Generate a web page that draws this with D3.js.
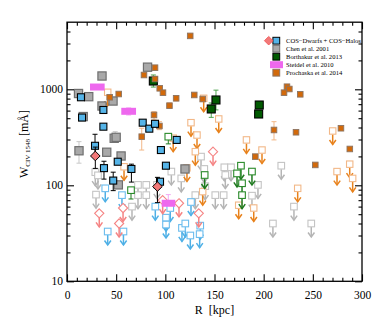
<!DOCTYPE html>
<html><head><meta charset="utf-8">
<script src="https://cdn.jsdelivr.net/npm/d3@7"></script>
<style>body{margin:0;background:#fff}svg{display:block}</style>
</head><body>
<svg id="c" width="382" height="327"></svg>
<script>
// ---------------- data ----------------
const xTicks = [0, 50, 100, 150, 200, 250, 300];
const yTicks = [10, 100, 1000];

// COS-Dwarfs + COS-Halos detections (blue filled squares) [R, W]
const cosDet = [[14.2,826],[15.3,508],[37,609],[37,408],[28.5,258],[51.6,176],[37.6,151],[65.5,148],
  [47,112],[77,449],[83.7,389],[89.5,437],[95.5,233],[111.6,297],[100.6,160],[94.6,109]];
// error bars for COS detections [R, lo, hi]
const cosDetErr = [[28.5,200,340],[37.6,116,178],[65.5,108,166],[47,88,137]];
// COS diamonds (filled) [R, W]
const cosDia = [[28.8,202],[92,97]];
const cosDiaErr = [[28.8,150,250],[92,66,121]];
// COS upper limits, squares (open blue)
const cosLimSq = [[38.9,93],[55.9,79],[41.4,33],[57.4,33],[89.8,60],[105,58],[126.1,67],[100.7,46],
  [100.7,39],[116.9,36],[120.3,40],[125.4,30],[134.9,31],[135.5,38]];
// COS upper limits, diamonds (open red)
const cosLimDia = [[32.8,51],[57,58],[53,40],[97.3,70],[113.9,65],[134,51],[148.5,224]];

// Chen et al. 2001 detections (gray filled)
const chenDet = [[16.5,520],[11.7,904],[22.1,838],[35.6,1376],[35.6,670],[46.8,755],[48,309],[50,316],
  [12.2,229],[40.4,221],[55,202],[52.2,101],[81.9,1700],[120,148]];
const chenErr = [[12.2,170,285],[49,300,362]];
// Chen upper limits (gray open)
const chenLim = [[28.8,137],[31.5,127],[29.5,80],[66.1,60],[72.2,101],[80.6,101],[72.2,79],[80.6,79],
  [91.5,101],[106.1,139],[116.2,118],[130.5,79],[140.6,98],[150.8,79],[159.3,79],[161,128],[139.6,148],
  [160,154],[166.8,154],[188.1,78],[194.2,101],[136.3,199],[217.9,160],[230.8,60],[209.4,40],[248.4,40]];

// Borthakur et al. 2013 detections (green filled)
const borDet = [[87.8,1220],[151.5,774],[146.7,624],[195.5,686],[194.9,553]];
const borErr = [[87.8,1055,1410],[151.5,610,980],[146.7,510,720],[195.5,640,740],[194.9,520,590]];
// Borthakur limits / non-detections (green open)
const borLim = [[140,128],[172.9,133],[178,105],[178,79],[188.1,139],[176.9,160]];
const borOpen = [[65.1,89],[103,321]];
const borOpenErr = [[65.1,72,92],[103,270,330]];

// Steidel et al. 2010 [R0, R1, W]
const steidel = [[23.4,38.3,1056],[55.2,70.2,590],[96.3,110.1,65]];
const steidelErr = [[62.7,540,640],[103,65,80]];

// Prochaska et al. 2014 detections (orange filled)
const proDet = [[43.4,826],[52.6,893],[78.3,1409],[89.5,1679],[89.5,1280],[94.3,1024],[97.6,922],
  [104.2,675],[111,806],[125.3,3600],[129.4,873],[138,792],[76,321],[88.5,540],[94,415],[223.7,1064],
  [226.1,1007],[220.7,922],[237.2,887],[210.5,377],[232.9,357],[278.6,393],[287.6,239],[252.5,163],[191.5,199]];
const proErr = [[76,233,393],[88.5,480,585],[210.5,297,460],[94,380,460],[104.2,640,720],[111,760,860]];
// Prochaska upper limits (orange open)
const proLim = [[41.4,931],[139,806],[126.1,449],[154.3,491],[132.2,334],[182.5,297],[130.5,224],
  [198.3,233],[270.2,368],[287.5,166],[274.6,139],[290.5,118],[234.6,93],[174.6,62],[189.9,58],
  [138,86],[58,156],[122,152],[108,310]];

const legendLabels = ["COS\u2212Dwarfs + COS\u2212Halos","Chen et al. 2001","Borthakur et al. 2013",
  "Steidel et al. 2010","Prochaska et al. 2014"];

// ---------------- drawing ----------------
const svg = d3.select("#c");
const L=67, R=362, T=22.2, B=281.3;
const x = d3.scaleLinear().domain([0,300]).range([L,R]);
const y = d3.scaleLog().domain([10,5000]).range([B,T]);
const FONT = "'Liberation Serif','Times New Roman',serif";

const C = {
  blue:"#55b4e8", blueO:"#6cbdee",
  gray:"#a9a9a9", grayS:"#6f6f6f", grayO:"#c4c4c4",
  green:"#015a01", greenO:"#2a8a2a",
  orange:"#d2690a", orangeS:"#8c7462", orangeO:"#f2b888", orangeA:"#e8821c",
  red:"#f27878", redO:"#f58484", mag:"#ee68ee"
};

const plot = svg.append("g");

function errBars(data, color, cap, sw){
  const g = plot.append("g").attr("stroke",color).attr("stroke-width",sw).attr("fill","none");
  data.forEach(d=>{
    const cx=x(d[0]), y0=y(d[1]), y1=y(d[2]);
    g.append("line").attr("x1",cx).attr("x2",cx).attr("y1",y0).attr("y2",y1);
    g.append("line").attr("x1",cx-cap).attr("x2",cx+cap).attr("y1",y0).attr("y2",y0);
    g.append("line").attr("x1",cx-cap).attr("x2",cx+cap).attr("y1",y1).attr("y2",y1);
  });
}
function arrows(data, color, off, sw){
  const g = plot.append("g").attr("stroke",color).attr("stroke-width",sw).attr("fill","none");
  data.forEach(d=>{
    const cx=x(d[0]), cy=y(d[1]);
    const tip = cy+13.5;
    g.append("line").attr("x1",cx).attr("x2",cx).attr("y1",cy+off).attr("y2",tip);
    g.append("path").attr("d",`M${cx-3.2},${tip-4.5}L${cx},${tip}L${cx+3.2},${tip-4.5}`);
  });
}
function squares(data, s, fill, stroke, sw){
  plot.append("g").selectAll("rect").data(data).join("rect")
    .attr("x",d=>x(d[0])-s/2).attr("y",d=>y(d[1])-s/2)
    .attr("width",s).attr("height",s)
    .attr("fill",fill).attr("stroke",stroke).attr("stroke-width",sw);
}
function diamonds(data, r, fill, stroke, sw){
  plot.append("g").selectAll("path").data(data).join("path")
    .attr("d",d=>{const cx=x(d[0]),cy=y(d[1]);return `M${cx},${cy-r}L${cx+r},${cy}L${cx},${cy+r}L${cx-r},${cy}Z`;})
    .attr("fill",fill).attr("stroke",stroke).attr("stroke-width",sw);
}

// upper limits
arrows(chenLim, "#b5b5b5", 3.5, 1.5); squares(chenLim, 6.6, "#fff", C.grayO, 1.1);
arrows(proLim, C.orangeA, 3.5, 1.5); squares(proLim, 6.4, "#fff", C.orangeO, 1.1);
arrows(borLim, "#1f7a1f", 3.5, 1.5); squares(borLim, 6.6, "#fff", C.greenO, 1.1);
errBars(borOpenErr, "#1f7a1f", 2.5, 1); squares(borOpen, 6.6, "#fff", C.greenO, 1.1);
arrows(cosLimSq, "#4fb0e6", 3.5, 1.5); squares(cosLimSq, 6.6, "#fff", C.blueO, 1.1);
arrows(cosLimDia, C.redO, 4.5, 1.5); diamonds(cosLimDia, 4.6, "#fff", C.redO, 1.1);

// Steidel
errBars(steidelErr, "#f2a8f2", 2.5, 1);
plot.append("g").selectAll("rect").data(steidel).join("rect")
  .attr("x",d=>x(d[0])).attr("width",d=>x(d[1])-x(d[0]))
  .attr("y",d=>y(d[2])-3.5).attr("height",7).attr("fill",C.mag);

// detections
errBars(chenErr, "#c8c8c8", 2.5, 1); squares(chenDet, 8.2, C.gray, C.grayS, 1.2);
errBars(borErr, "#3c9a3c", 2.5, 0.9); squares(borDet, 8, C.green, "#000", 1.1);
errBars(proErr, C.orangeO, 2.5, 1); squares(proDet, 5.6, C.orange, C.orangeS, 0.9);
errBars(cosDetErr, "#000", 2.5, 1); squares(cosDet, 7, C.blue, "#000", 1.1);
errBars(cosDiaErr, "#000", 2.5, 1); diamonds(cosDia, 4.8, C.red, "#000", 1);

// ---------------- axes ----------------
const xMinor = d3.range(0,301,10).filter(v=>v%50!==0);
const yMinor = [];
[10,100,1000].forEach(b=>{for(let k=2;k<=9;k++){const v=b*k; if(v<5000) yMinor.push(v);}});

function styleAxis(g){ g.select(".domain").remove(); g.selectAll("line").attr("stroke","#000").attr("stroke-width",1.1); }

svg.append("g").attr("transform",`translate(0,${B})`)
  .call(d3.axisBottom(x).tickValues(xTicks).tickSize(-7).tickPadding(10).tickFormat(d3.format("d")))
  .call(styleAxis)
  .call(g=>g.selectAll("text").attr("font-family",FONT).attr("font-size",11.5).attr("fill","#000"));
svg.append("g").attr("transform",`translate(0,${B})`)
  .call(d3.axisBottom(x).tickValues(xMinor).tickSize(-3.5).tickFormat(""))
  .call(styleAxis);
svg.append("g").attr("transform",`translate(0,${T})`)
  .call(d3.axisTop(x).tickValues(xTicks).tickSize(-7).tickFormat(""))
  .call(styleAxis);
svg.append("g").attr("transform",`translate(0,${T})`)
  .call(d3.axisTop(x).tickValues(xMinor).tickSize(-3.5).tickFormat(""))
  .call(styleAxis);

svg.append("g").attr("transform",`translate(${L},0)`)
  .call(d3.axisLeft(y).tickValues(yTicks).tickSize(-7).tickPadding(4).tickFormat(d3.format("d")))
  .call(styleAxis)
  .call(g=>g.selectAll("text").attr("font-family",FONT).attr("font-size",11.5).attr("fill","#000"));
svg.append("g").attr("transform",`translate(${L},0)`)
  .call(d3.axisLeft(y).tickValues(yMinor).tickSize(-3.5).tickFormat(""))
  .call(styleAxis);
svg.append("g").attr("transform",`translate(${R},0)`)
  .call(d3.axisRight(y).tickValues(yTicks).tickSize(-7).tickFormat(""))
  .call(styleAxis);
svg.append("g").attr("transform",`translate(${R},0)`)
  .call(d3.axisRight(y).tickValues(yMinor).tickSize(-3.5).tickFormat(""))
  .call(styleAxis);

svg.append("rect").attr("x",L).attr("y",T).attr("width",R-L).attr("height",B-T)
  .attr("fill","none").attr("stroke","#000").attr("stroke-width",1.3);

// axis titles
svg.append("text").attr("x",(L+R)/2).attr("y",313.5).attr("text-anchor","middle")
  .attr("font-family",FONT).attr("font-size",12).text("R  [kpc]").attr("xml:space","preserve");
const yl = svg.append("text").attr("transform","translate(27.5,144) rotate(-90)")
  .attr("text-anchor","middle").attr("font-family",FONT).attr("font-size",12);
yl.append("tspan").text("W");
yl.append("tspan").attr("font-size",7).attr("dy",2.5).text("CIV 1548");
yl.append("tspan").attr("dy",-2.5).text(" [mÅ]");

// ---------------- legend ----------------
const lg = svg.append("g");
const rowY = i => 40.7 + 8*i;
const lgFill = [C.blue, C.gray, C.green, C.mag, C.orange];
const lgStroke = ["#000", C.grayS, "#000", "none", C.orangeS];
legendLabels.forEach((t,i)=>{
  if(i===3){
    lg.append("rect").attr("x",270).attr("y",rowY(i)-3.5).attr("width",13).attr("height",7).attr("fill",C.mag);
  } else {
    lg.append("rect").attr("x",276.3-3.4).attr("y",rowY(i)-3.4).attr("width",6.8).attr("height",6.8)
      .attr("fill",lgFill[i]).attr("stroke",lgStroke[i]).attr("stroke-width",1);
  }
  lg.append("text").attr("x",286).attr("y",rowY(i)+2.3).attr("font-family",FONT).attr("font-size",6.6).text(t);
});
lg.append("path").attr("d",`M268.7,${rowY(0)-4.3}L273,${rowY(0)}L268.7,${rowY(0)+4.3}L264.4,${rowY(0)}Z`)
  .attr("fill",C.red).attr("stroke","#f05050").attr("stroke-width",0.8);
</script>
</body></html>
